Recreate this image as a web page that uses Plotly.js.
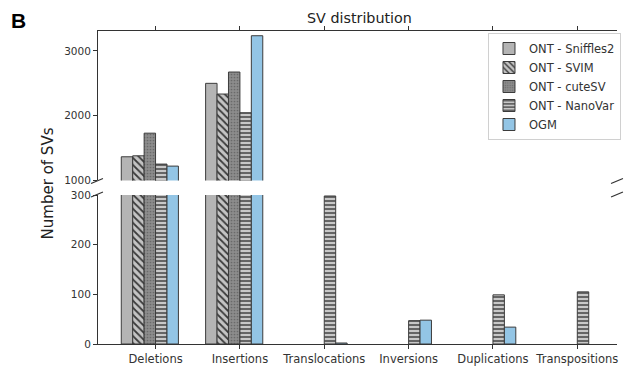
<!DOCTYPE html>
<html>
<head>
<meta charset="utf-8">
<script src="https://cdn.plot.ly/plotly-3.0.1.min.js"></script>
<style>html,body{margin:0;padding:0;background:#fff;overflow:hidden}</style>
</head>
<body>
<div id="chart" style="width:624px;height:366px"></div>
<script>
// ---- data ----
const categories = ["Deletions", "Insertions", "Translocations", "Inversions", "Duplications", "Transpositions"];
const seriesNames = ["ONT - Sniffles2", "ONT - SVIM", "ONT - cuteSV", "ONT - NanoVar", "OGM"];
const sniffles2 = [1365, 2500, 0, 0, 0, 0];
const svim      = [1380, 2335, 0, 0, 0, 0];
const cutesv    = [1730, 2675, 0, 0, 0, 0];
const nanovar   = [1252, 2046, 298, 47, 99, 105];
const ogm       = [1221, 3236, 2, 48, 34, 0];
const seriesValues = [sniffles2, svim, cutesv, nanovar, ogm];

// ---- styles ----
const W = 0.1355; // bar width in category units
const styles = [
  {color: "#b4b4b4", pattern: {shape: ""}},
  {color: "#c4c4c4", pattern: {shape: "\\", fgcolor: "#3a3a3a", bgcolor: "#c4c4c4", size: 5, solidity: 0.35}},
  {color: "#8c8c8c", pattern: {shape: ".", fgcolor: "#6a6a6a", bgcolor: "#8c8c8c", size: 3, solidity: 0.25}},
  {color: "#c8c8c8", pattern: {shape: "-", fgcolor: "#3a3a3a", bgcolor: "#c8c8c8", size: 4, solidity: 0.35}},
  {color: "#93c5e5", pattern: {shape: ""}}
];

const xIdx = categories.map((c, i) => i);
const traces = [];
[["x", "y", true], ["x2", "y2", false]].forEach(([xa, ya, leg]) => {
  seriesValues.forEach((vals, i) => {
    traces.push({
      type: "bar",
      x: xIdx,
      y: vals.map(v => (v === 0 ? null : v)),
      name: seriesNames[i],
      xaxis: xa, yaxis: ya,
      width: W,
      offset: (i - 3) * W,
      showlegend: leg,
      hoverinfo: "skip",
      marker: {color: styles[i].color, pattern: styles[i].pattern, line: {color: "#3c3c3c", width: 1}}
    });
  });
});

const L = 98, R = 621, T = 31, B = 344;
const PW = R - L, PH = B - T;
const px = v => (v - L) / PW;
const py = v => (B - v) / PH;

const axisCommon = {
  showline: true, linecolor: "#333", linewidth: 1,
  ticks: "outside", ticklen: 4, tickcolor: "#333", tickwidth: 1,
  showgrid: false, zeroline: false,
  tickfont: {family: "DejaVu Sans", size: 10.5, color: "#333"}
};
const xr = [(L - 156) / 85, (R - 156) / 85];

const breakLine = (x, y) => ({type: "line", xref: "paper", yref: "paper",
  x0: px(x - 6), y0: py(y + 2.5), x1: px(x + 6), y1: py(y - 2.5),
  line: {color: "#333", width: 1.2}});

const layout = {
  width: 624, height: 366,
  margin: {l: L, r: 624 - R, t: T, b: 366 - B, pad: 0},
  paper_bgcolor: "#fff", plot_bgcolor: "rgba(0,0,0,0)",
  barmode: "overlay",
  font: {family: "DejaVu Sans", color: "#333"},
  xaxis: Object.assign({}, axisCommon, {domain: [0, 1], anchor: "y", range: xr,
    tickvals: xIdx, ticktext: categories, tickfont: {family: "DejaVu Sans", size: 11.5, color: "#333"}}),
  yaxis: Object.assign({}, axisCommon, {domain: [0, (B - 195) / PH], anchor: "x", range: [0, 300],
    tickvals: [0, 100, 200, 300]}),
  xaxis2: Object.assign({}, axisCommon, {domain: [0, 1], anchor: "y2", side: "top", range: xr,
    tickvals: xIdx, showticklabels: false}),
  yaxis2: Object.assign({}, axisCommon, {domain: [(B - 180.4) / PH, 1], anchor: "x2", range: [1000, 3309],
    tickvals: [1000, 2000, 3000]}),
  legend: {x: px(491), y: py(33), xanchor: "left", yanchor: "top",
    bgcolor: "#fff", bordercolor: "#d0d0d0", borderwidth: 1,
    font: {family: "DejaVu Sans", size: 11.5, color: "#333"}, traceorder: "normal"},
  shapes: [breakLine(97, 181), breakLine(97, 194.5), breakLine(621, 181), breakLine(621, 194.5)],
  annotations: [
    {text: "SV distribution", xref: "paper", yref: "paper", x: px(361.5), y: py(18), showarrow: false,
      xanchor: "center", yanchor: "middle", font: {family: "DejaVu Sans", size: 14.3, color: "#222"}},
    {text: "Number of SVs", xref: "paper", yref: "paper", x: px(48), y: py(183), showarrow: false,
      textangle: -90, xanchor: "center", yanchor: "middle", font: {family: "DejaVu Sans", size: 15, color: "#222"}},
    {text: "<b>B</b>", xref: "paper", yref: "paper", x: px(18), y: py(20.5), showarrow: false,
      xanchor: "center", yanchor: "middle", font: {family: "Liberation Sans", size: 21, color: "#000"}}
  ]
};

Plotly.newPlot("chart", traces, layout, {displayModeBar: false, staticPlot: true});
</script>
</body>
</html>
